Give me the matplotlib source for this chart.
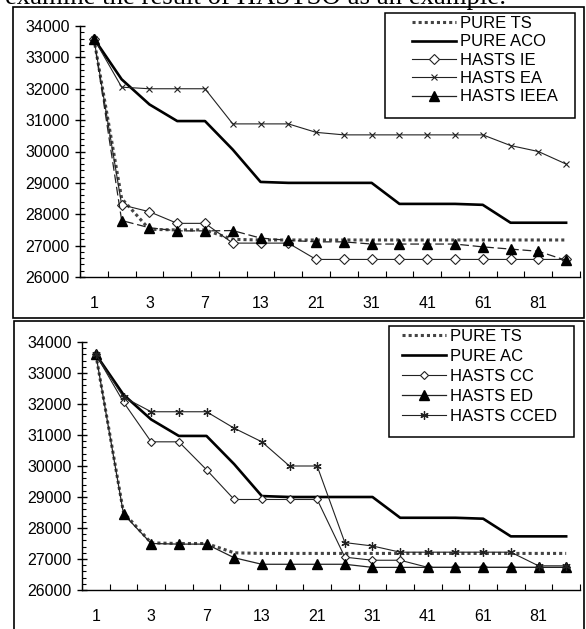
import matplotlib.pyplot as plt
import matplotlib.patches as patches
import numpy as np

# iteraciones (eje x categórico)
iters = ["1", "2", "3", "5", "7", "10", "13", "17", "21", "26", "31", "36", "41", "51", "61", "71", "81", "91"]

# gráfico superior
pure_ts = [33600, 28500, 27520, 27500, 27500, 27200, 27180, 27180, 27180, 27180,
           27180, 27180, 27180, 27180, 27180, 27180, 27180, 27180]
pure_aco = [33600, 32300, 31500, 30970, 30970, 30060, 29030, 29000, 29000, 29000,
            29000, 28330, 28330, 28330, 28300, 27730, 27730, 27730]
hasts_ie = [33600, 28300, 28080, 27710, 27710, 27080, 27080, 27080, 26560, 26560,
            26560, 26560, 26560, 26560, 26560, 26560, 26560, 26560]
hasts_ea = [33600, 32050, 32000, 32000, 32000, 30880, 30880, 30880, 30610, 30530,
            30530, 30530, 30530, 30530, 30530, 30190, 30000, 29600]
hasts_ieea = [33600, 27800, 27570, 27470, 27470, 27480, 27240, 27170, 27120, 27120,
              27050, 27050, 27050, 27050, 26960, 26890, 26820, 26530]

# gráfico inferior
pure_ac = pure_aco
hasts_cc = [33600, 32060, 30780, 30780, 29880, 28920, 28920, 28920, 28920, 27060,
            26960, 26960, 26730, 26730, 26730, 26730, 26730, 26730]
hasts_ed = [33600, 28450, 27500, 27480, 27480, 27040, 26830, 26830, 26830, 26830,
            26730, 26730, 26730, 26730, 26730, 26730, 26730, 26730]
hasts_cced = [33600, 32220, 31750, 31750, 31750, 31220, 30780, 30000, 30000, 27530,
              27420, 27220, 27220, 27220, 27220, 27220, 26780, 26780]

W, H = 586, 629
plt.rcParams['font.family'] = ['Liberation Sans', 'DejaVu Sans']
fig = plt.figure(figsize=(W / 100, H / 100), dpi=100)

x = np.arange(len(iters))
lc = '#222222'


def px(xp, yp):
    return xp / W, 1 - yp / H


def estilo_ejes(ax):
    ax.set_xlim(-0.5, len(iters) - 0.5)
    ax.set_ylim(26000, 34000)
    for s in ['top', 'right']:
        ax.spines[s].set_visible(False)
    for s in ['left', 'bottom']:
        ax.spines[s].set_linewidth(1.0)
    ax.set_yticks(np.arange(26000, 34001, 1000))
    ax.set_yticks(np.arange(26000, 34001, 200), minor=True)
    ax.tick_params(axis='y', which='major', direction='inout', length=7, width=1,
                   labelsize=11.5, pad=4, colors='black')
    ax.tick_params(axis='y', which='minor', direction='in', length=3, width=0.8)
    ax.set_xticks(np.arange(-0.5, len(iters), 1), minor=True)
    ax.set_xticks(x[::2])
    ax.set_xticklabels(iters[::2])
    ax.tick_params(axis='x', which='major', length=0, labelsize=11.5, pad=14)
    ax.tick_params(axis='x', which='minor', direction='in', length=4, width=0.8)


def leyenda(ax, caja, ancla, espacio):
    leg = ax.legend(loc='upper left', bbox_to_anchor=ancla, bbox_transform=fig.transFigure,
                    frameon=False, fontsize=12, handlelength=2.65, handletextpad=0.25,
                    labelspacing=espacio, borderpad=0, borderaxespad=0)
    x0, y0, x1, y1 = caja
    fig.patches.append(patches.Rectangle(px(x0, y1), (x1 - x0) / W, (y1 - y0) / H,
                                         transform=fig.transFigure, fill=False,
                                         edgecolor='black', linewidth=1.1))
    return leg


# marcos del área de gráfico
fig.patches.append(patches.Rectangle(px(12.7, 318), (584 - 12.7) / W, (318 - 7) / H,
                                     transform=fig.transFigure, fill=False,
                                     edgecolor='black', linewidth=1.2))
fig.patches.append(patches.Rectangle(px(14, 660), (584 - 14) / W, (660 - 321) / H,
                                     transform=fig.transFigure, fill=False,
                                     edgecolor='black', linewidth=1.2, clip_on=False))

# texto recortado del documento
t = fig.text(5 / W, 1 - 4 / H, "examine the result of HASTSO as an example:",
             family='Liberation Serif', fontsize=18, va='baseline', ha='left')
fig.canvas.draw()
ancho = t.get_window_extent().width
t.set_fontsize(18 * 502 / ancho)

# ---- gráfico superior ----
ax1 = fig.add_axes([80 / W, 1 - 277 / H, 500 / W, (277 - 26) / H])
ax1.plot(x, pure_ts, color='#444444', lw=2.2, ls=(0, (1, 1)), label='PURE TS')
ax1.plot(x, pure_aco, color='black', lw=1.9, label='PURE ACO')
ax1.plot(x, hasts_ie, color=lc, lw=0.8, marker='D', ms=5, mfc='white', mec=lc,
         mew=0.8, label='HASTS IE')
ax1.plot(x, hasts_ea, color=lc, lw=0.8, marker='x', ms=5, mew=0.8, label='HASTS EA')
ax1.plot(x, hasts_ieea, color=lc, lw=0.9, ls=(0, (7, 3)), marker='^', ms=6.5,
         mfc='black', mec='black', label='HASTS IEEA')
estilo_ejes(ax1)
leg1 = leyenda(ax1, (385, 13, 575, 118), px(412, 16), 0.2)
leg1.get_lines()[4].set_linestyle('-')

# ---- gráfico inferior ----
ax2 = fig.add_axes([82 / W, 1 - 590 / H, 498 / W, (590 - 342) / H])
ax2.plot(x, pure_ts, color='#444444', lw=2.2, ls=(0, (1, 1)), label='PURE TS')
ax2.plot(x, pure_ac, color='black', lw=1.9, label='PURE AC')
ax2.plot(x, hasts_cc, color=lc, lw=0.8, marker='D', ms=4.5, mfc='white', mec=lc,
         mew=0.8, label='HASTS CC')
ax2.plot(x, hasts_ed, color=lc, lw=0.9, marker='^', ms=6.5, mfc='black', mec='black',
         label='HASTS ED')
ax2.plot(x, hasts_cced, color=lc, lw=0.8, marker=(6, 2, 0), ms=6, mew=0.9,
         label='HASTS CCED')
estilo_ejes(ax2)
leyenda(ax2, (389, 326, 574, 437), px(402, 329), 0.3)

plt.savefig('out.png', dpi=100)
